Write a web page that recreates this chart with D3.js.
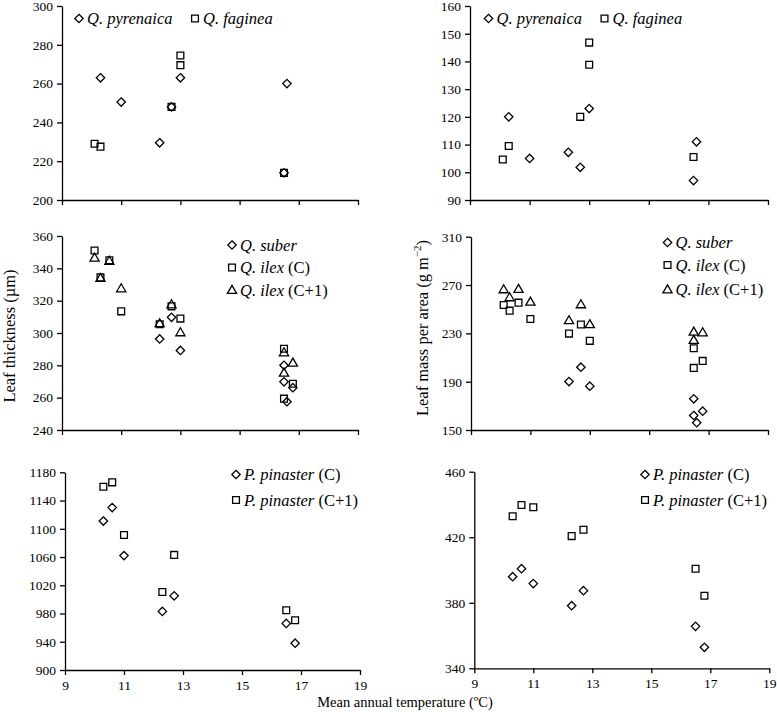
<!DOCTYPE html>
<html><head><meta charset="utf-8">
<script src="https://cdn.jsdelivr.net/npm/d3@7"></script>
<style>body{margin:0;background:#fff}svg{display:block}text{font-family:"Liberation Serif","Times New Roman",serif;fill:#000}</style>
</head><body><svg id="c" width="777" height="712"></svg>
<script>
// ---- data ----
const xTicks = [9, 11, 13, 15, 17, 19];
// Panel A: leaf thickness, Q. pyrenaica / Q. faginea
const pyrThickT = [10.3, 11.0, 12.3, 12.7, 13.0, 16.6, 16.5];
const pyrThickV = [263, 250.5, 229.5, 248, 263, 260, 214];
const fagThickT = [10.1, 10.3, 12.7, 13.0, 13.0, 16.5];
const fagThickV = [229, 227.5, 248, 274.5, 269.5, 214];
// Panel B: LMA, Q. pyrenaica / Q. faginea
const pyrLmaT = [10.3, 11.0, 12.3, 12.7, 13.0, 16.6, 16.5];
const pyrLmaV = [120, 105, 107.2, 101.8, 123, 111, 97];
const fagLmaT = [10.1, 10.3, 12.7, 13.0, 13.0, 16.5];
const fagLmaV = [104.6, 109.5, 120, 146.8, 138.8, 105.5];
// Panel C: leaf thickness, Q. suber / Q. ilex
const suberThickT = [12.3, 12.7, 13.0, 16.5, 16.5, 16.8, 16.6];
const suberThickV = [296.3, 309.7, 289.2, 280, 269.8, 266.2, 257.5];
const ilexCThickT = [10.1, 10.3, 10.6, 11.0, 12.3, 12.7, 13.0, 16.5, 16.8, 16.5];
const ilexCThickV = [351, 334.4, 345, 313.4, 305.4, 316.5, 308.9, 290.3, 268.6, 259.4];
const ilexC1ThickT = [10.1, 10.3, 10.6, 11.0, 12.3, 12.7, 13.0, 16.5, 16.5, 16.8];
const ilexC1ThickV = [346.6, 334, 344.6, 327.6, 306, 317.7, 300.4, 288, 275.4, 281.6];
// Panel D: LMA, Q. suber / Q. ilex
const suberLmaT = [12.3, 12.7, 13.0, 16.5, 16.5, 16.8, 16.6];
const suberLmaV = [190.1, 202, 186.3, 175.8, 162, 165.6, 156];
const ilexCLmaT = [10.1, 10.3, 10.6, 11.0, 12.3, 12.7, 13.0, 16.5, 16.5, 16.8];
const ilexCLmaV = [253.5, 248.8, 255.4, 241.9, 229.8, 237.3, 223.8, 217.7, 201.4, 207.2];
const ilexC1LmaT = [10.1, 10.3, 10.6, 11.0, 12.3, 12.7, 13.0, 16.5, 16.5, 16.8];
const ilexC1LmaV = [266.4, 259.8, 266.7, 256.2, 240.8, 254, 237.5, 231.4, 224.5, 230.8];
// Panel E: leaf thickness, P. pinaster
const pinCThickT = [10.3, 10.6, 11.0, 12.3, 12.7, 16.5, 16.8];
const pinCThickV = [1111, 1130, 1062, 983, 1005, 966, 938];
const pinC1ThickT = [10.3, 10.6, 11.0, 12.3, 12.7, 16.5, 16.8];
const pinC1ThickV = [1159.6, 1165.8, 1091.2, 1010.4, 1063, 984.6, 970.5];
// Panel F: LMA, P. pinaster
const pinCLmaT = [10.3, 10.6, 11.0, 12.3, 12.7, 16.5, 16.8];
const pinCLmaV = [395.9, 400.8, 391.7, 378.2, 387.4, 365.6, 352.8];
const pinC1LmaT = [10.3, 10.6, 11.0, 12.3, 12.7, 16.5, 16.8];
const pinC1LmaV = [432.8, 439.7, 438.3, 420.7, 424.6, 400.8, 384.3];

const yTicksA = [200, 220, 240, 260, 280, 300];
const yTicksB = [90, 100, 110, 120, 130, 140, 150, 160];
const yTicksC = [240, 260, 280, 300, 320, 340, 360];
const yTicksD = [150, 190, 230, 270, 310];
const yTicksE = [900, 940, 980, 1020, 1060, 1100, 1140, 1180];
const yTicksF = [340, 380, 420, 460];

// ---- drawing ----
const svg = d3.select("#c");
const FONT = "'Liberation Serif','Times New Roman',serif";
function sym(type){
  if(type==="diamond") return "M0,-4.2L4.2,0L0,4.2L-4.2,0Z";
  if(type==="square") return "M-3.4,-3.4H3.4V3.4H-3.4Z";
  return "M0,-4.6L4.6,3.4H-4.6Z";
}
const panels = [
  {xr:[62,358], yr:[200,6], yd:[200,300], yt:yTicksA, xl:false,
   series:[{t:pyrThickT,v:pyrThickV,s:"diamond"},{t:fagThickT,v:fagThickV,s:"square"}],
   legend:{items:[{s:"diamond",x:79,y:18.5,label:[["Q. pyrenaica",true]]},{s:"square",x:195,y:18.5,label:[["Q. faginea",true]]}]}},
  {xr:[470,768], yr:[200,6], yd:[90,160], yt:yTicksB, xl:false,
   series:[{t:pyrLmaT,v:pyrLmaV,s:"diamond"},{t:fagLmaT,v:fagLmaV,s:"square"}],
   legend:{items:[{s:"diamond",x:488.5,y:18.5,label:[["Q. pyrenaica",true]]},{s:"square",x:604.5,y:18.5,label:[["Q. faginea",true]]}]}},
  {xr:[62,358], yr:[430,236], yd:[240,360], yt:yTicksC, xl:false,
   series:[{t:suberThickT,v:suberThickV,s:"diamond"},{t:ilexCThickT,v:ilexCThickV,s:"square"},{t:ilexC1ThickT,v:ilexC1ThickV,s:"triangle"}],
   legend:{items:[{s:"diamond",x:232,y:245,label:[["Q. suber",true]]},{s:"square",x:232,y:267.5,label:[["Q. ilex",true],[" (C)",false]]},{s:"triangle",x:232,y:290,label:[["Q. ilex",true],[" (C+1)",false]]}]}},
  {xr:[471,768], yr:[430,236.7], yd:[150,310], yt:yTicksD, xl:false,
   series:[{t:suberLmaT,v:suberLmaV,s:"diamond"},{t:ilexCLmaT,v:ilexCLmaV,s:"square"},{t:ilexC1LmaT,v:ilexC1LmaV,s:"triangle"}],
   legend:{items:[{s:"diamond",x:667.5,y:242.5,label:[["Q. suber",true]]},{s:"square",x:667.5,y:265,label:[["Q. ilex",true],[" (C)",false]]},{s:"triangle",x:667.5,y:289.5,label:[["Q. ilex",true],[" (C+1)",false]]}]}},
  {xr:[65,360], yr:[670,472.3], yd:[900,1180], yt:yTicksE, xl:true,
   series:[{t:pinCThickT,v:pinCThickV,s:"diamond"},{t:pinC1ThickT,v:pinC1ThickV,s:"square"}],
   legend:{items:[{s:"diamond",x:236,y:474.5,label:[["P. pinaster",true],[" (C)",false]]},{s:"square",x:236,y:500,label:[["P. pinaster",true],[" (C+1)",false]]}]}},
  {xr:[474.3,769.3], yr:[668.3,471.7], yd:[340,460], yt:yTicksF, xl:true,
   series:[{t:pinCLmaT,v:pinCLmaV,s:"diamond"},{t:pinC1LmaT,v:pinC1LmaV,s:"square"}],
   legend:{items:[{s:"diamond",x:645,y:474.5,label:[["P. pinaster",true],[" (C)",false]]},{s:"square",x:645,y:500,label:[["P. pinaster",true],[" (C+1)",false]]}]}}
];

panels.forEach(p=>{
  const x = d3.scaleLinear().domain([9,19]).range(p.xr);
  const y = d3.scaleLinear().domain(p.yd).range(p.yr);
  const g = svg.append("g");
  const xa = g.append("g").attr("transform",`translate(0,${p.yr[0]})`)
    .call(d3.axisBottom(x).tickValues(xTicks).tickSize(5).tickSizeOuter(0).tickPadding(5)
      .tickFormat(p.xl ? d3.format("d") : ""));
  const ya = g.append("g").attr("transform",`translate(${p.xr[0]},0)`)
    .call(d3.axisLeft(y).tickValues(p.yt).tickSize(5).tickSizeOuter(0).tickPadding(4).tickFormat(d3.format("d")));
  [xa,ya].forEach(a=>{
    a.attr("font-family",FONT).attr("font-size",13.5);
    a.select(".domain").attr("stroke","#000").attr("stroke-width",1.3);
    a.selectAll(".tick line").attr("stroke","#000").attr("stroke-width",1.3);
    a.selectAll("text").attr("font-size",13.5).attr("fill","#000");
  });
  p.series.forEach(s=>{
    g.selectAll(null).data(s.t.map((t,i)=>[t,s.v[i]])).enter().append("path")
      .attr("d",sym(s.s)).attr("transform",d=>`translate(${x(d[0])},${y(d[1])})`)
      .attr("fill","none").attr("stroke","#000").attr("stroke-width",1.3);
  });
  p.legend.items.forEach(it=>{
    g.append("path").attr("d",sym(it.s)).attr("transform",`translate(${it.x},${it.y})`)
      .attr("fill","none").attr("stroke","#000").attr("stroke-width",1.3);
    const t = g.append("text").attr("x",it.x+8).attr("y",it.y+5.5).attr("font-size",16.5);
    it.label.forEach(([s,ital])=>t.append("tspan").text(s).attr("font-style",ital?"italic":"normal"));
  });
});

svg.append("text").attr("transform","translate(15,336) rotate(-90)").attr("text-anchor","middle")
  .attr("font-size",16.5).text("Leaf thickness (µm)");
const lt = svg.append("text").attr("transform","translate(428,328) rotate(-90)").attr("text-anchor","middle")
  .attr("font-size",16.5);
lt.append("tspan").text("Leaf mass per area (g m");
lt.append("tspan").text("−2").attr("font-size",11).attr("dy",-7);
lt.append("tspan").text(")").attr("dy",7);
svg.append("text").attr("x",405).attr("y",707).attr("text-anchor","middle")
  .attr("font-size",14.5).text("Mean annual temperature (ºC)");
</script></body></html>
